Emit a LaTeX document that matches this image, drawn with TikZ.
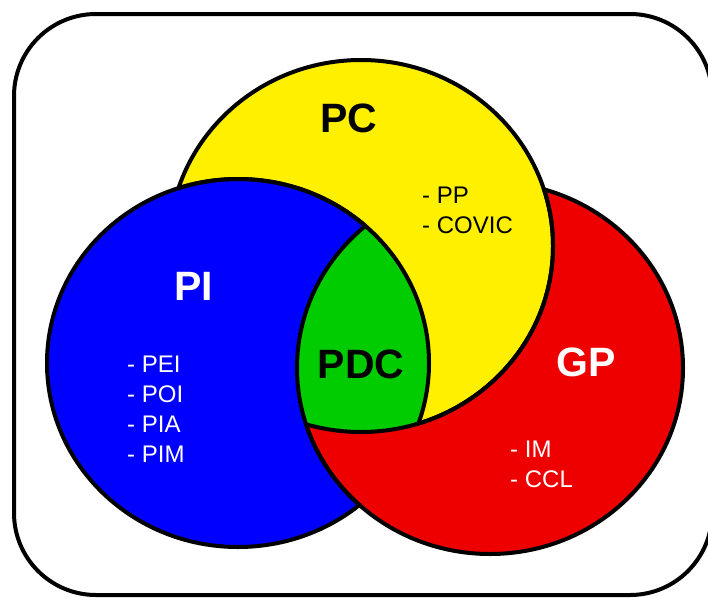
\documentclass[tikz,border=0pt]{standalone}
\usepackage{fontspec}
\setmainfont{Liberation Sans}
\definecolor{pcyellow}{RGB}{255,240,0}
\definecolor{piblue}{RGB}{0,0,255}
\definecolor{gpred}{RGB}{238,0,0}
\definecolor{pdcgreen}{RGB}{0,204,0}
\tikzset{title/.style = {font=\fontsize{41}{49}\selectfont\bfseries},
         items/.style = {font=\fontsize{24}{30}\selectfont, anchor=base west, inner sep=0pt},
         rim/.style = {line width=4}}
\def\circlePC{(361, 246) ellipse [x radius=192, y radius=186]}
\def\circlePI{(238, 363) ellipse [x radius=191, y radius=184]}
\def\circleGP{(490, 368) ellipse [x radius=193, y radius=186]}
\def\wholearea{(-50, -50) rectangle (760, 650)}

\begin{document}
\begin{tikzpicture}[x=1pt, y=-1pt]
    \useasboundingbox (0, 0) rectangle (708, 597);
    % fills
    \fill [piblue] \circlePI;
    \fill [gpred] \circleGP;
    \fill [pcyellow] \circlePC;
    \begin{scope}[even odd rule]
      \clip \wholearea \circleGP;
      \fill [piblue] \circlePI;
    \end{scope}
    \begin{scope}
      \clip \circleGP;
      \clip \circlePI;
      \fill [pdcgreen] \circlePC;
    \end{scope}
    % outlines
    \begin{scope}[even odd rule]
      \clip \wholearea \circlePI;
      \draw [rim] \circlePC;
    \end{scope}
    \begin{scope}
      \clip \circleGP;
      \draw [rim] \circlePC;
    \end{scope}
    \begin{scope}[even odd rule]
      \clip \wholearea \circleGP;
      \draw [rim] \circlePI;
    \end{scope}
    \begin{scope}
      \clip \circlePC;
      \draw [rim] \circlePI;
    \end{scope}
    \begin{scope}[even odd rule]
      \clip \wholearea \circlePC;
      \draw [rim] \circleGP;
    \end{scope}
    \begin{scope}
      \clip \circlePI;
      \draw [rim] \circleGP;
    \end{scope}
    \draw [rim, rounded corners=82] (14, 14) rectangle (712, 595);
    % labels
    \node [title] (pc) at (349, 118) {PC};
    \node [title, white] (pi) at (194, 286) {PI};
    \node [title] (pdc) at (361, 364) {PDC};
    \node [title, white] (gp) at (586, 362) {GP};
    \foreach \item [count=\k] in {PP, COVIC}
      \node [items] (pc\k) at (422, 173 + 30*\k) {- \item};
    \foreach \item [count=\k] in {PEI, POI, PIA, PIM}
      \node [items, white] (pi\k) at (127, 342 + 30*\k) {- \item};
    \foreach \item [count=\k] in {IM, CCL}
      \node [items, white] (gp\k) at (510, 427 + 30*\k) {- \item};
  \end{tikzpicture}
\end{document}
